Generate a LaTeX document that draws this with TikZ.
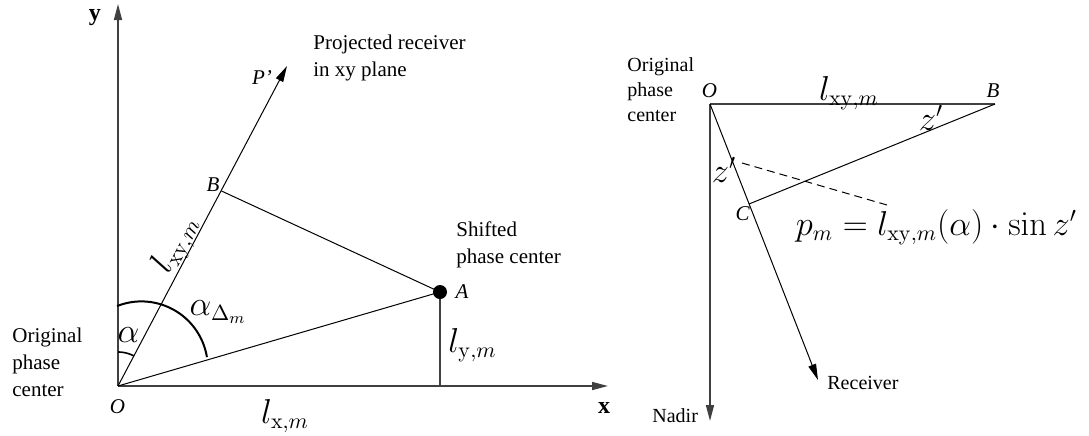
\documentclass[tikz,border=0pt]{standalone}
\usepackage[no-math]{fontspec}
\setmainfont{Liberation Serif}
\usetikzlibrary{arrows.meta}
\begin{document}
\begin{tikzpicture}[x=0.5pt,y=-0.5pt,
  axis/.style={draw=black!75, line width=0.8pt},
  thinline/.style={draw=black, line width=0.5pt},
  arr/.style={-{Triangle[length=8pt,width=4pt]}},
  txt/.style={font=\fontsize{10.5}{13.5}\selectfont, inner sep=0, align=left},
  rtxt/.style={font=\fontsize{10}{12.5}\selectfont, inner sep=0, align=left},
  ital/.style={font=\fontsize{10.5}{13}\selectfont\itshape, inner sep=0},
  bold/.style={font=\fontsize{12}{14}\selectfont\bfseries, inner sep=0},
  mlbl/.style={font=\fontsize{16}{19}\selectfont, inner sep=0},
  ]
\useasboundingbox (0,0) rectangle (1089,435);
% ---------- left diagram ----------
\coordinate (O) at (118,386);
\coordinate (Y) at (118,4);
\coordinate (X) at (608,386);
\coordinate (P) at (287,66);
\coordinate (B) at (221.5,191);
\coordinate (F) at (440,386);
\coordinate (Acen) at (440,292);
\draw[axis, arr] (O) -- (Y);
\draw[axis, arr] (O) -- (X);
\draw[axis] (Acen) -- (F);
\draw[thinline, arr] (O) -- (P);
\draw[thinline] (B) -- (Acen);
\draw[thinline] (O) -- (Acen);
\node[circle, fill, minimum size=7pt, inner sep=0] (A) at (Acen) {};
\draw[line width=0.8pt, domain=62.2:90, samples=20, variable=\t]
  plot ({118+34*cos(\t)},{386-34*sin(\t)});
\draw[line width=1pt, domain=9.3:111.5, samples=40, variable=\t]
  plot ({141.4+66.4*cos(\t)},{367.8-66.4*sin(\t)});
\node[bold] (ylbl) at (95,18) {y};
\node[bold] (xlbl) at (604,408) {x};
\node[ital] (Plbl) at (262,78) {P’};
\node[ital] (Blbl) at (213,185) {B};
\node[ital] (Albl) at (462,292) {A};
\node[ital] (Olbl) at (117.5,406.5) {O};
\node[txt, anchor=north west] (proj) at (313,34.5) {Projected receiver\\in xy plane};
\node[txt, anchor=north west] (shift) at (456,221.5) {Shifted\\phase center};
\node[txt, anchor=north west] (orig) at (12,327.5) {Original\\phase\\center};
\node[mlbl, anchor=base] (lx) at (285,423) {$l_{\mathrm{x},m}$};
\node[mlbl, anchor=base] (ly) at (472.5,352) {$l_{\mathrm{y},m}$};
\node[mlbl, anchor=base, rotate=62.2] (lxy) at (182.5,248) {$l_{\mathrm{xy},m}$};
\node[mlbl, anchor=base] (al) at (128.5,342) {$\alpha$};
\node[mlbl, anchor=base] (ald) at (218,315) {$\alpha_{\Delta_m}$};
% ---------- right diagram ----------
\coordinate (O2) at (710,104);
\coordinate (B2) at (995,104);
\coordinate (N) at (710,421);
\coordinate (R) at (818,380);
\coordinate (C) at (749,204);
\coordinate (D1) at (742,163);
\coordinate (D2) at (887,205);
\draw[axis] (O2) -- (B2);
\draw[axis, arr] (O2) -- (N);
\draw[thinline, arr] (O2) -- (R);
\draw[thinline] (B2) -- (C);
\draw[thinline, dash pattern=on 4pt off 2.5pt] (D1) -- (D2);
\node[rtxt, anchor=north west] (orig2) at (627,57) {Original\\phase\\center};
\node[ital] (O2lbl) at (709.5,91) {O};
\node[ital] (B2lbl) at (993,91) {B};
\node[ital] (Clbl) at (742.5,214) {C};
\node[mlbl, anchor=base] (lxy2) at (849,100) {$l_{\mathrm{xy},m}$};
\node[mlbl, anchor=base] (z1) at (724,182) {$z'$};
\node[mlbl, anchor=base] (z2) at (931,130) {$z'$};
\node[mlbl, anchor=base] (pm) at (936.5,235) {$p_m = l_{\mathrm{xy},m}(\alpha)\cdot\sin z'$};
\node[rtxt, anchor=base west] (recv) at (827,389) {Receiver};
\node[rtxt, anchor=base west] (nadir) at (652,422) {Nadir};
\end{tikzpicture}
\end{document}
